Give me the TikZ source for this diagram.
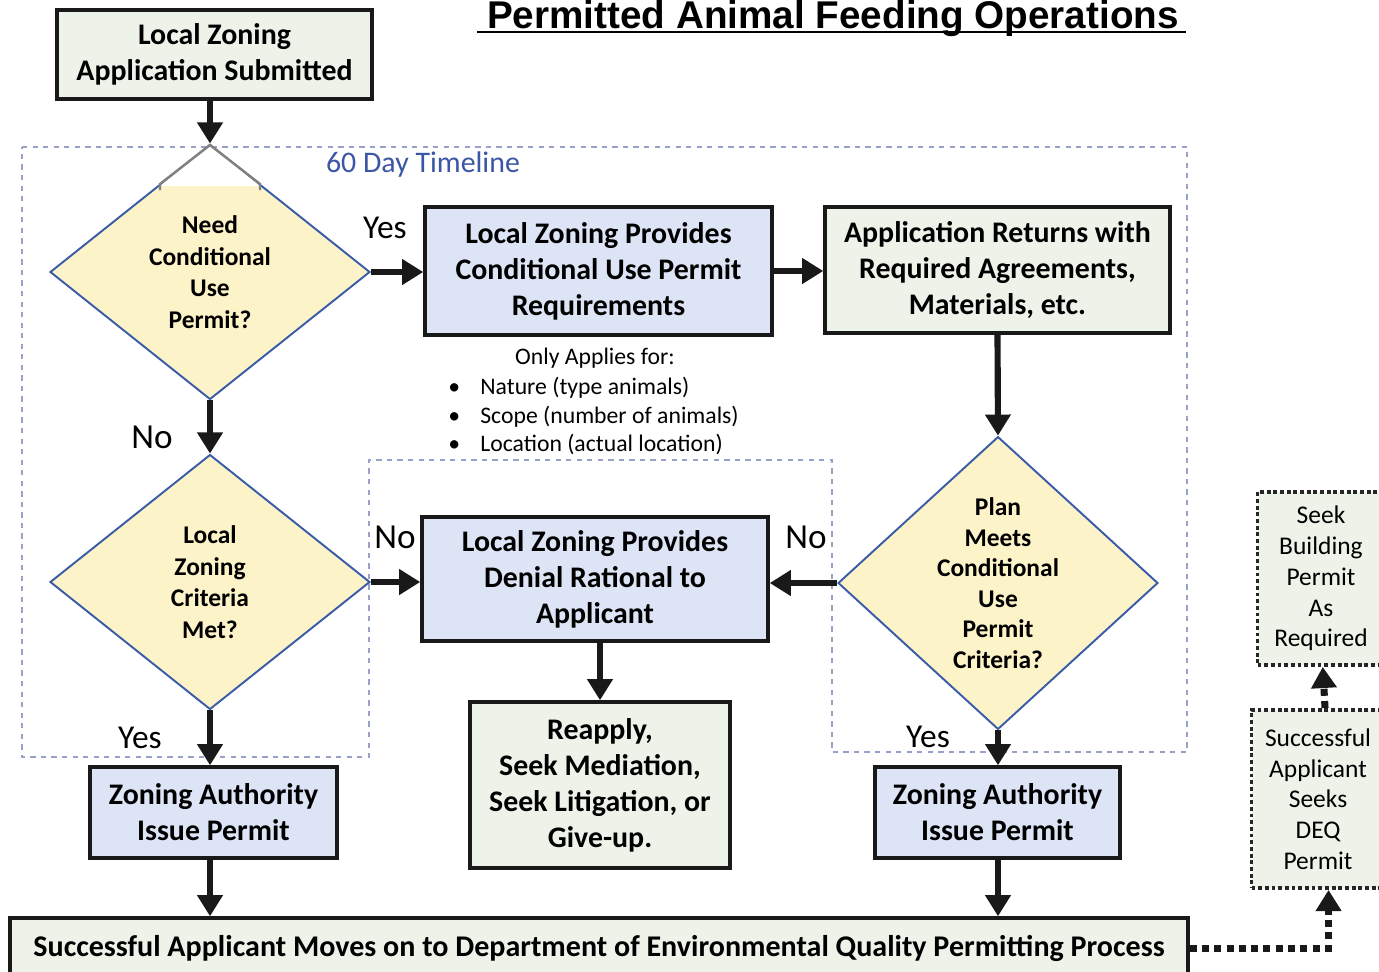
\documentclass[tikz,border=0pt]{standalone}
\usepackage{fontspec}
\setmainfont{Carlito}
\newfontfamily\titlefont{Liberation Sans}
\usepackage{tikz}
\usetikzlibrary{shapes.geometric,arrows.meta,positioning,calc,backgrounds}

\definecolor{boxgreen}{HTML}{EEF3EA}
\definecolor{boxblue}{HTML}{DCE4F5}
\definecolor{askfill}{HTML}{FCF3C8}
\definecolor{askline}{HTML}{3A5BA8}
\definecolor{timeblue}{HTML}{3B56A4}
\definecolor{timeline}{HTML}{98A2C8}

\tikzset{
  stepbox/.style={rectangle, draw=black!90, line width=2pt, align=center, inner sep=2pt,
    font=\fontsize{17}{20.5}\selectfont\bfseries},
  askbox/.style={diamond, draw=askline, line width=1.1pt, fill=askfill, inner sep=0pt,
    minimum width=6.4cm, minimum height=5.1cm, align=center,
    font=\fontsize{14.5}{18}\selectfont\bfseries},
  sidebox/.style={rectangle, draw=black!85, line width=2.2pt, dash pattern=on 2.2pt off 1.6pt,
    fill=boxgreen, align=center, font=\fontsize{14.5}{17.5}\selectfont},
  flow/.style={line width=3.5pt, black!90, -{Triangle[length=12pt,width=14pt]}},
  sideflow/.style={line width=4pt, black!90, dash pattern=on 4pt off 3pt,
    -{Triangle[length=12pt,width=14pt]}},
  answer/.style={font=\fontsize{19}{22}\selectfont, inner sep=0pt},
  note/.style={font=\fontsize{13.5}{16}\selectfont, inner sep=0pt, anchor=base west}
}

\begin{document}
\begin{tikzpicture}[x=0.02cm, y=-0.02cm]

    \useasboundingbox (0,0) rectangle (1379,971);

    % Title
    \node[font=\titlefont\fontsize{22}{24}\selectfont\bfseries, anchor=base, inner sep=0pt] (title) at (833,28) {Permitted Animal Feeding Operations};
    \draw[line width=1.2pt] ($(title.base west)+(-10,4)$) -- ($(title.base east)+(7,4)$);

    % 60 day timeline
    \draw[timeline, line width=0.7pt, dashed] (22,147) -- (1187,147) -- (1187,752) -- (832,752) -- (832,460)
      -- (369,460) -- (369,757) -- (22,757) -- cycle;
    \node[font=\fontsize{17}{20}\selectfont, text=timeblue, inner sep=0pt] (days) at (423,165) {60 Day Timeline};

    % Boxes
    \node[stepbox, fill=boxgreen, minimum width=6.3cm, minimum height=1.78cm] (apply) at (214.5,54.5) {Local Zoning\\Application Submitted};
    \node[stepbox, fill=boxblue, minimum width=6.94cm, minimum height=2.56cm] (require) at (598.5,271) {Local Zoning Provides\\Conditional Use Permit\\Requirements};
    \node[stepbox, fill=boxgreen, minimum width=6.9cm, minimum height=2.52cm] (returns) at (997.5,270) {Application Returns with\\Required Agreements,\\Materials, etc.};
    \node[stepbox, fill=boxblue, minimum width=6.92cm, minimum height=2.48cm] (deny) at (595,579) {Local Zoning Provides\\Denial Rational to\\Applicant};
    \node[stepbox, fill=boxgreen, minimum width=5.2cm, minimum height=3.32cm] (reapply) at (600,785) {Reapply,\\Seek Mediation,\\Seek Litigation, or\\Give-up.};
    \node[stepbox, fill=boxblue, minimum width=4.94cm, minimum height=1.82cm] (issueL) at (213.5,812.5) {Zoning Authority\\Issue Permit};
    \node[stepbox, fill=boxblue, minimum width=4.9cm, minimum height=1.82cm] (issueR) at (997.5,812.5) {Zoning Authority\\Issue Permit};
    \node[stepbox, fill=boxgreen, minimum width=23.56cm, minimum height=1.2cm, font=\fontsize{17.1}{20}\selectfont\bfseries] (deq) at (599,948) {Successful Applicant Moves on to Department of Environmental Quality Permitting Process};

    % Side boxes
    \node[sidebox, minimum width=2.66cm, minimum height=3.56cm] (seeks) at (1318,799) {Successful\\Applicant\\Seeks\\DEQ\\Permit};
    \node[sidebox, minimum width=2.54cm, minimum height=3.46cm] (build) at (1321,578.5) {Seek\\Building\\Permit\\As\\Required};

    % Decisions
    \node[askbox] (need) at (210,272) {Need\\Conditional\\Use\\Permit?};
    \fill[white] (210,145) -- (160,186) -- (260,186) -- cycle;
    \draw[gray, line width=1.4pt] (160,190) -- (160,184) -- (210,145) -- (260,184) -- (260,190);
    \node[askbox] (criteria) at (210,582) {Local\\Zoning\\Criteria\\Met?};
    \node[askbox, minimum height=5cm, font=\fontsize{14.5}{17.4}\selectfont\bfseries] (meets) at (998,583) {Plan\\Meets\\Conditional\\Use\\Permit\\Criteria?};

    % Only applies
    \node[note, anchor=base] (only) at (595,364) {Only Applies for:};
    \node[note] (dot1) at (448,394) {\textbullet};
    \node[note] (dot2) at (448,423) {\textbullet};
    \node[note] (dot3) at (448,451) {\textbullet};
    \node[note] (nature) at (480,394) {Nature (type animals)};
    \node[note] (scope) at (480,423) {Scope (number of animals)};
    \node[note] (where) at (480,451) {Location (actual location)};

    % Answers
    \node[answer] (yes1) at (385,228) {Yes};
    \node[answer, font=\fontsize{20}{22}\selectfont] (no1) at (152,437) {No};
    \node[answer, font=\fontsize{20}{22}\selectfont] (no2) at (395,537) {No};
    \node[answer, font=\fontsize{20}{22}\selectfont] (no3) at (806,537) {No};
    \node[answer] (yes2) at (140,738) {Yes};
    \node[answer] (yes3) at (928,737) {Yes};

    % Arrows
    \draw[flow] (need.north |- apply.south) -- (need.north);
    \draw[flow] (need.east) -- (need.east -| require.west);
    \draw[flow] (require.east) -- (require.east -| returns.west);
    \draw[flow] (returns.south) -- (meets.north);
    \draw[flow] (need.south) -- (criteria.north);
    \draw[flow] (criteria.east) -- (criteria.east -| deny.west);
    \draw[flow] (meets.west) -- (meets.west -| deny.east);
    \draw[flow] (deny.south -| reapply.north) -- (reapply.north);
    \draw[flow] (criteria.south) -- (criteria.south |- issueL.north);
    \draw[flow] (meets.south) -- (meets.south |- issueR.north);
    \draw[flow] (issueL.south -| criteria.south) -- (criteria.south |- deq.north);
    \draw[flow] (issueR.south -| meets.south) -- (meets.south |- deq.north);
    \draw[sideflow] (deq.east) -| ([xshift=6]seeks.south);
    \draw[sideflow] ([xshift=4]seeks.north) -- ([xshift=1]build.south);

\end{tikzpicture}
\end{document}
